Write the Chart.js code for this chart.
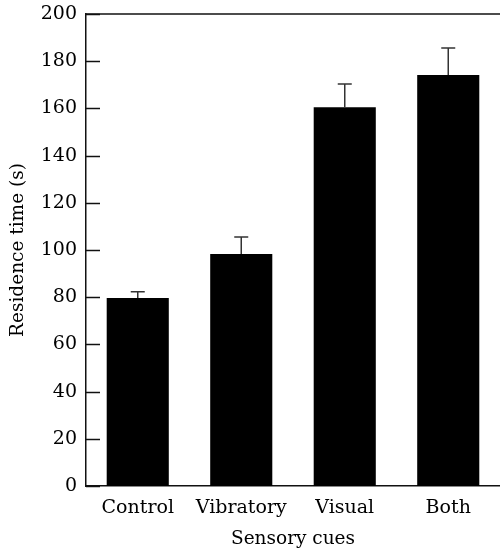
<!DOCTYPE html>
<html>
<head>
<meta charset="utf-8">
<script src="https://cdn.jsdelivr.net/npm/chart.js@4"></script>
<style>
  body { margin: 0; background: #fff; }
</style>
</head>
<body>
<canvas id="myChart" width="500" height="550"></canvas>
<script>
const categories = ['Control', 'Vibratory', 'Visual', 'Both'];
const residence = [79.7, 98.3, 160.5, 174.2];
const errorUp = [2.6, 7.2, 9.8, 11.4];
const yTicks = [0, 20, 40, 60, 80, 100, 120, 140, 160, 180, 200];

const serif = "'DejaVu Serif', serif";

// error bars, inward ticks and top frame line
const extras = {
    id: 'extras',
    afterDatasetsDraw(chart) {
        const ctx = chart.ctx;
        const y = chart.scales.y;
        const area = chart.chartArea;
        const bars = chart.getDatasetMeta(0).data;
        ctx.save();
        ctx.strokeStyle = '#333';
        ctx.lineWidth = 1.5;
        bars.forEach((bar, i) => {
            const top = y.getPixelForValue(residence[i]);
            const cap = y.getPixelForValue(residence[i] + errorUp[i]);
            ctx.beginPath();
            ctx.moveTo(bar.x, top);
            ctx.lineTo(bar.x, cap);
            ctx.moveTo(bar.x - 7, cap);
            ctx.lineTo(bar.x + 7, cap);
            ctx.stroke();
        });
        ctx.strokeStyle = '#111';
        yTicks.forEach(t => {
            const py = Math.round(y.getPixelForValue(t)) + 0.5;
            ctx.beginPath();
            ctx.moveTo(area.left, py);
            ctx.lineTo(area.left + 14, py);
            ctx.stroke();
        });
        ctx.beginPath();
        ctx.moveTo(area.left, area.top);
        ctx.lineTo(area.right, area.top);
        ctx.stroke();
        ctx.restore();
    }
};

const config = {
    type: 'bar',
    data: {
        labels: categories,
        datasets: [{
            label: 'Residence time',
            data: residence,
            backgroundColor: '#000',
            borderColor: '#000',
            borderWidth: 0,
            categoryPercentage: 1.0,
            barPercentage: 0.6
        }]
    },
    options: {
        responsive: false,
        animation: false,
        layout: { padding: { top: 14, right: 0, left: 0, bottom: 0 } },
        plugins: {
            legend: { display: false },
            tooltip: { enabled: false }
        },
        scales: {
            x: {
                grid: { display: false },
                border: { display: true, color: '#111', width: 1.5 },
                ticks: { color: '#000', padding: 3, font: { family: serif, size: 19 } },
                title: {
                    display: true,
                    text: 'Sensory cues',
                    color: '#000',
                    padding: { top: 2, bottom: 0 },
                    font: { family: serif, size: 18.5 }
                },
                afterFit(scale) { scale.height = 64; }
            },
            y: {
                min: 0,
                max: 200,
                afterBuildTicks(scale) { scale.ticks = yTicks.map(v => ({ value: v })); },
                grid: { display: false, drawTicks: false },
                border: { display: true, color: '#111', width: 1.5 },
                ticks: { color: '#000', padding: 9, font: { family: serif, size: 19 } },
                title: {
                    display: true,
                    text: 'Residence time (s)',
                    color: '#000',
                    padding: { top: 7, bottom: 4 },
                    font: { family: serif, size: 18.5 }
                },
                afterFit(scale) {
                    scale.width = 86;
                    scale.paddingTop = 0;
                    scale.paddingBottom = 0;
                }
            }
        }
    },
    plugins: [extras]
};

var myChart = new Chart(document.getElementById('myChart'), config);
</script>
</body>
</html>
